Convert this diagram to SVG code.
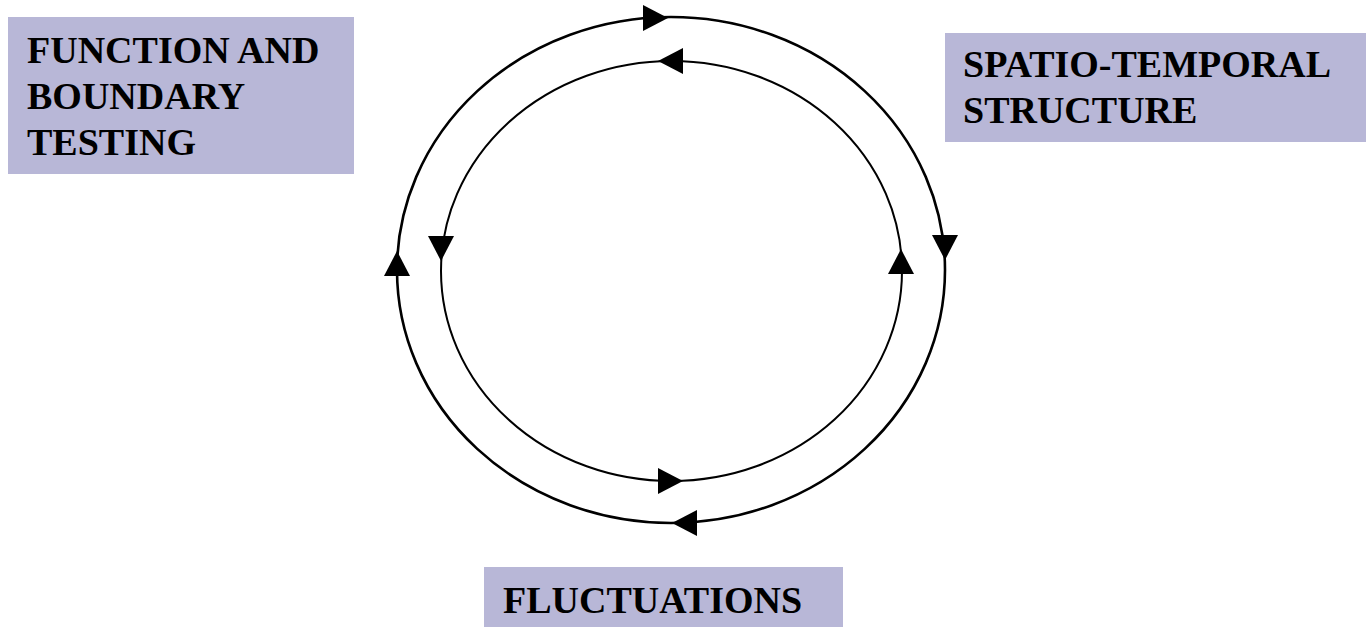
<svg xmlns="http://www.w3.org/2000/svg" xmlns:xlink="http://www.w3.org/1999/xlink" width="1366" height="627" viewBox="0 0 1366 627">
<style>
.box{fill:#b8b7d7;}
.lbl{font-family:"Liberation Serif","Times New Roman",serif;font-weight:bold;font-size:38px;fill:#000;}
.outer{fill:none;stroke:#000;stroke-width:2.6;}
.inner{fill:none;stroke:#000;stroke-width:2;}
.ah{fill:#000;}
</style>
<defs>
<path id="ah" d="M0,0 L-25,-13 L-25,13 Z"/>
</defs>
<rect width="1366" height="627" fill="#fff"/>
<g id="connectors">
<ellipse class="outer" cx="671" cy="270" rx="274" ry="253"/>
<ellipse class="inner" cx="671.5" cy="271" rx="230.5" ry="210"/>
<use class="ah" xlink:href="#ah" transform="translate(668,18)"/>
<use class="ah" xlink:href="#ah" transform="translate(658,61) rotate(180)"/>
<use class="ah" xlink:href="#ah" transform="translate(397,251) rotate(-90)"/>
<use class="ah" xlink:href="#ah" transform="translate(441,261) rotate(90)"/>
<use class="ah" xlink:href="#ah" transform="translate(945,260) rotate(90)"/>
<use class="ah" xlink:href="#ah" transform="translate(901,249) rotate(-90)"/>
<use class="ah" xlink:href="#ah" transform="translate(683,481)"/>
<use class="ah" xlink:href="#ah" transform="translate(672,523) rotate(180)"/>
</g>
<g id="node-function">
<rect class="box" x="8" y="17" width="346" height="157"/>
<text class="lbl" x="27" y="63">FUNCTION AND</text>
<text class="lbl" x="27" y="109">BOUNDARY</text>
<text class="lbl" x="27" y="155">TESTING</text>
</g>
<g id="node-spatio">
<rect class="box" x="945" y="33" width="421" height="109"/>
<text class="lbl" x="963" y="77">SPATIO-TEMPORAL</text>
<text class="lbl" x="963" y="123">STRUCTURE</text>
</g>
<g id="node-fluct">
<rect class="box" x="484" y="567" width="359" height="60"/>
<text class="lbl" x="503" y="613">FLUCTUATIONS</text>
</g>
</svg>
